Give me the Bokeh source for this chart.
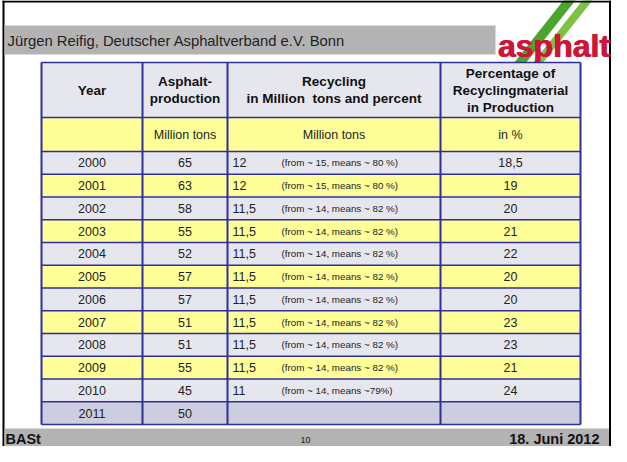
from bokeh.plotting import figure
from bokeh.models import Range1d, ColumnDataSource
from bokeh.embed import file_html
from bokeh.resources import INLINE
from bokeh.core.properties import value

# ---------------- data ----------------
years = ["2000", "2001", "2002", "2003", "2004", "2005", "2006", "2007", "2008", "2009", "2010", "2011"]
production = ["65", "63", "58", "55", "52", "57", "57", "51", "51", "55", "45", "50"]
recycling = ["12", "12", "11,5", "11,5", "11,5", "11,5", "11,5", "11,5", "11,5", "11,5", "11", ""]
recycling_note = ["(from ~ 15, means ~ 80 %)", "(from ~ 15, means ~ 80 %)",
                  "(from ~ 14, means ~ 82 %)", "(from ~ 14, means ~ 82 %)",
                  "(from ~ 14, means ~ 82 %)", "(from ~ 14, means ~ 82 %)",
                  "(from ~ 14, means ~ 82 %)", "(from ~ 14, means ~ 82 %)",
                  "(from ~ 14, means ~ 82 %)", "(from ~ 14, means ~ 82 %)",
                  "(from ~ 14, means ~79%)", ""]
percentage = ["18,5", "19", "20", "21", "22", "20", "20", "23", "23", "21", "24", ""]

header_year = ["Year"]
header_prod = ["Asphalt-", "production"]
header_rec = ["Recycling", "in Million\u00a0 tons and percent"]
header_pct = ["Percentage of", "Recyclingmaterial", "in Production"]
units = ["", "Million tons", "Million tons", "in %"]

title_text = "Jürgen Reifig, Deutscher Asphaltverband e.V. Bonn"
footer_left = "BASt"
footer_mid = "10"
footer_right = "18. Juni 2012"
logo_text = "asphalt"

# ---------------- layout ----------------
FONT = "Liberation Sans"
col_edges = [49, 150, 235, 448, 588]
t_header_top, t_header_bot, t_units_bot, t_bottom = 70, 125, 159, 432
n = len(years)
row_h = (t_bottom - t_units_bot) / n
row_tops = [t_units_bot + i * row_h for i in range(n)]
row_bots = [t + row_h for t in row_tops]
row_mid = [t + row_h / 2 for t in row_tops]

GRAY = "#e6e7ee"
YELLOW = "#ffff99"
LAV = "#cdcde0"
BORDER = "#2f2f9c"
row_colors = []
for i in range(n):
    if i == n - 1:
        row_colors.append(LAV)
    elif i % 2 == 0:
        row_colors.append(GRAY)
    else:
        row_colors.append(YELLOW)

p = figure(width=611, height=446, x_range=Range1d(8, 619), y_range=Range1d(454, 8),
           output_backend="svg", toolbar_location=None, min_border=0,
           x_axis_location=None, y_axis_location=None)
p.grid.visible = False
p.outline_line_color = None
p.background_fill_color = "white"
p.border_fill_color = "white"

# logo stripes (behind)
p.patches(xs=[[517, 529, 586, 574], [536, 546, 603, 593]],
          ys=[[76, 76, 4, 4], [76, 76, 4, 4]],
          fill_color=["#4aa52e", "#7dc242"], line_color=None)

# frame
p.quad(left=[10, 10, 616.5], right=[619, 12, 619], top=[8, 8, 8], bottom=[10, 454, 454],
       fill_color="black", line_color=None)
# header band and footer band
p.quad(left=[12, 12], right=[503, 616.5], top=[33, 436], bottom=[62, 454],
       fill_color="#b3b3b3", line_color=None)

# logo text (drawn twice for a heavier weight)
p.text(x=[505, 506], y=[53, 53], text=[logo_text, logo_text], text_font=value(FONT), text_font_style="bold",
       text_font_size="32px", text_color="#cc1538", text_baseline="alphabetic", text_align="left")

p.text(x=[15], y=[48], text=[title_text], text_font=value(FONT), text_font_size="14.8px",
       text_color="#222222", text_baseline="middle", text_align="left")

# table backgrounds
p.quad(left=[col_edges[0]], right=[col_edges[-1]], top=[t_header_top], bottom=[t_header_bot],
       fill_color=GRAY, line_color=None)
p.quad(left=[col_edges[0]], right=[col_edges[-1]], top=[t_header_bot], bottom=[t_units_bot],
       fill_color=YELLOW, line_color=None)
src = ColumnDataSource(dict(top=row_tops, bottom=row_bots, color=row_colors))
p.quad(left=col_edges[0], right=col_edges[-1], top="top", bottom="bottom",
       fill_color="color", line_color=None, source=src)

# grid lines
hy = [t_header_top, t_header_bot, t_units_bot] + row_bots
p.segment(x0=[col_edges[0]] * len(hy), x1=[col_edges[-1]] * len(hy), y0=hy, y1=hy,
          line_color=BORDER, line_width=1.4)
p.segment(x0=col_edges, x1=col_edges, y0=[t_header_top] * len(col_edges), y1=[t_bottom] * len(col_edges),
          line_color=BORDER, line_width=2)

centers = [(col_edges[i] + col_edges[i + 1]) / 2 for i in range(4)]

def header_lines(cx, lines, cy, lh=17):
    start = cy - lh * (len(lines) - 1) / 2
    ys = [start + k * lh for k in range(len(lines))]
    p.text(x=[cx] * len(lines), y=ys, text=lines, text_font=value(FONT), text_font_style="bold",
           text_font_size="13.5px", text_color="#111111", text_baseline="middle", text_align="center")

hmid = (t_header_top + t_header_bot) / 2
header_lines(centers[0], header_year, hmid)
header_lines(centers[1], header_prod, hmid)
header_lines(centers[2], header_rec, hmid)
header_lines(centers[3], header_pct, hmid)

umid = (t_header_bot + t_units_bot) / 2
p.text(x=centers, y=[umid] * 4, text=units, text_font=value(FONT), text_font_size="12.5px",
       text_color="#222222", text_baseline="middle", text_align="center")

# data text
dsrc = ColumnDataSource(dict(y=row_mid, year=years, prod=production, rec=recycling,
                             note=recycling_note, pct=percentage))
common = dict(text_font=value(FONT), text_font_size="12.5px", text_color="#222222", text_baseline="middle")
p.text(x=centers[0], y="y", text="year", text_align="center", source=dsrc, **common)
p.text(x=centers[1], y="y", text="prod", text_align="center", source=dsrc, **common)
p.text(x=col_edges[2] + 5, y="y", text="rec", text_align="left", source=dsrc, **common)
p.text(x=centers[3], y="y", text="pct", text_align="center", source=dsrc, **common)
p.text(x=col_edges[2] + 54, y="y", text="note", text_align="left", source=dsrc,
       text_font=value(FONT), text_font_size="9.8px", text_color="#222222", text_baseline="middle")

# footer texts
p.text(x=[13], y=[446], text=[footer_left], text_font=value(FONT), text_font_style="bold",
       text_font_size="14.5px", text_color="#111111", text_baseline="middle", text_align="left")
p.text(x=[313], y=[447], text=[footer_mid], text_font=value(FONT),
       text_font_size="9px", text_color="#222222", text_baseline="middle", text_align="center")
p.text(x=[607], y=[446], text=[footer_right], text_font=value(FONT), text_font_style="bold",
       text_font_size="14.5px", text_color="#111111", text_baseline="middle", text_align="right")

open("out.html", "w").write(file_html(p, INLINE))
